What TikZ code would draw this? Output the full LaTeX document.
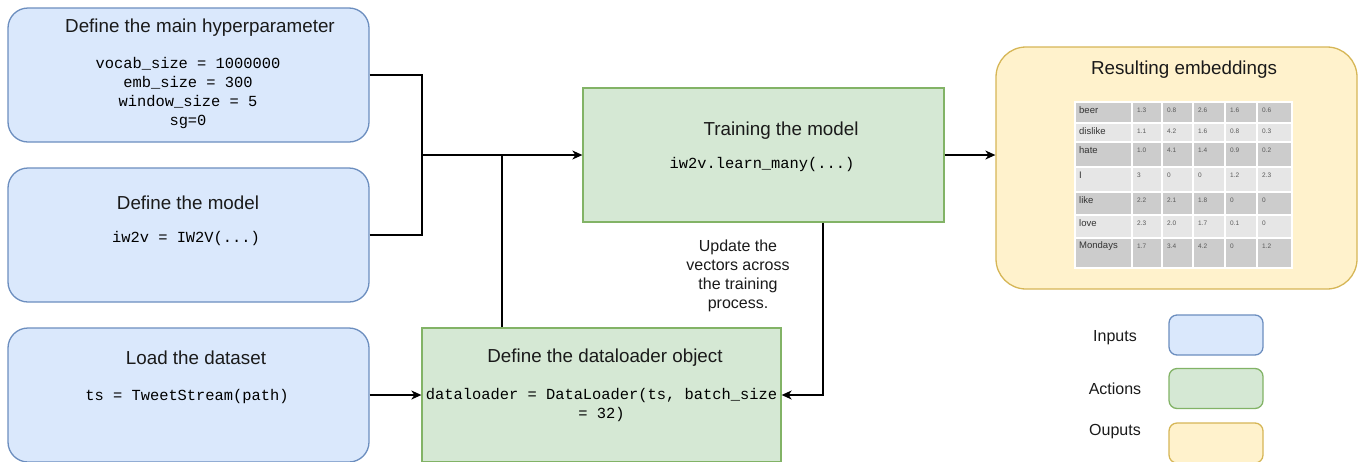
\documentclass[tikz,border=0pt]{standalone}
\usepackage{fontspec}
\setmainfont{Liberation Sans}
\setmonofont{Liberation Mono}
\usetikzlibrary{arrows.meta}

\definecolor{infill}{HTML}{DAE8FC}
\definecolor{inedge}{HTML}{6C8EBF}
\definecolor{actfill}{HTML}{D5E8D4}
\definecolor{actedge}{HTML}{82B366}
\definecolor{outfill}{HTML}{FFF2CC}
\definecolor{outedge}{HTML}{D6B656}
\definecolor{tabdark}{HTML}{CCCCCC}
\definecolor{tablight}{HTML}{E6E6E6}
\definecolor{txt}{HTML}{1A1A1A}

\tikzset{
  inbox/.style={draw=inedge, fill=infill, line width=1.3, rounded corners=20, minimum width=361, minimum height=134},
  actbox/.style={draw=actedge, fill=actfill, line width=1.3, minimum width=361, minimum height=134},
  outbox/.style={draw=outedge, fill=outfill, line width=1.3, rounded corners=30, minimum width=361, minimum height=242},
  keybox/.style={line width=1.3, rounded corners=8, minimum width=94, minimum height=40},
  headtxt/.style={text=txt, inner sep=0, font=\fontsize{18.8}{23}\selectfont},
  codetxt/.style={text=black, align=center, inner sep=0, font=\ttfamily\fontsize{15.4}{19}\selectfont},
  smalltxt/.style={text=txt, align=center, inner sep=0, font=\fontsize{16}{19}\selectfont},
  flow/.style={line width=1.3, -{Stealth[length=10, width=9, inset=3]}},
  link/.style={line width=1.3},
}

\begin{document}
\begin{tikzpicture}[x=1pt, y=-1pt]
  \useasboundingbox (0,0) rectangle (1364,461);
  \clip (0,0) rectangle (1364,461);  % untere Kaesten sind abgeschnitten

  % Eingaben
  \node[inbox] (hyper) at (188.5,75) {};
  \node[headtxt] (hyper-title) at (200,28) {Define the main hyperparameter};
  \node[codetxt] (hyper-code) at (188,93.5) {vocab\_size = 1000000\\emb\_size = 300\\window\_size = 5\\sg=0};

  \node[inbox] (model) at (188.5,235) {};
  \node[headtxt] (model-title) at (188,203) {Define the model};
  \node[codetxt] (model-code) at (186,239) {iw2v = IW2V(...)};

  \node[inbox] (data) at (188.5,395) {};
  \node[headtxt] (data-title) at (196,358) {Load the dataset};
  \node[codetxt] (data-code) at (187,397) {ts = TweetStream(path)};

  % Aktionen
  \node[actbox] (train) at (763.5,155) {};
  \node[headtxt] (train-title) at (781,131) {Training the model};
  \node[codetxt] (train-code) at (762,165) {iw2v.learn\_many(...)};

  \node[actbox, minimum width=359] (loader) at (601.5,395) {};
  \node[headtxt] (loader-title) at (605,358) {Define the dataloader object};
  \node[codetxt] (loader-code) at (601.5,405) {dataloader = DataLoader(ts, batch\_size\\= 32)};

  % Ausgabe
  \node[outbox] (embed) at (1176.5,168) {};
  \node[headtxt] (embed-title) at (1184,70) {Resulting embeddings};

  \foreach \i/\word/\va/\vb/\vc/\vd/\ve/\top/\bot/\shade in {
      1/beer/1.3/0.8/2.6/1.6/0.6/102/123/tabdark,
      2/dislike/1.1/4.2/1.6/0.8/0.3/123/142/tablight,
      3/hate/1.0/4.1/1.4/0.9/0.2/142/167/tabdark,
      4/I/3/0/0/1.2/2.3/167/192/tablight,
      5/like/2.2/2.1/1.8/0/0/192/215/tabdark,
      6/love/2.3/2.0/1.7/0.1/0/215/238/tablight,
      7/Mondays/1.7/3.4/4.2/0/1.2/238/268/tabdark}
    {
     \draw[fill=\shade, draw=white, line width=1.2] (1075,\top) rectangle (1132,\bot);  % Wortspalte
     \node[anchor=west, inner sep=0, text=black!80, font=\fontsize{9.5}{11}\selectfont] (word-\i) at (1079,\top+8.5) {\word};
     \foreach \xa/\xb/\v/\j in {1132/1162/\va/1, 1162/1193/\vb/2, 1193/1225/\vc/3, 1225/1257/\vd/4, 1257/1292/\ve/5}
       {
        \draw[fill=\shade, draw=white, line width=1.2] (\xa,\top) rectangle (\xb,\bot);  % Zahlen
        \node[anchor=west, inner sep=0, text=black!65, font=\fontsize{6.5}{8}\selectfont] (val-\i-\j) at (\xa+5,\top+8.5) {\v};
       }
    };

  % Verbindungen
  \coordinate (merge) at (422,155);
  \coordinate (tap) at (502,155);
  \draw[link] (hyper.east) -| (merge);
  \draw[link] (model.east) -| (merge);
  \draw[flow] (merge) -- (merge -| train.west);
  \draw[link] (tap |- loader.north) -- (tap);
  \draw[flow] (train.east) -- (train.east -| embed.west);
  \draw[flow] ([xshift=59.5pt]train.south) |- (loader.east);
  \draw[flow] (data.east) -- (loader.west);
  \node[smalltxt] (update) at (738,276) {Update the\\vectors across\\the training\\process.};

  % Legende
  \node[keybox, draw=inedge, fill=infill] (key-in) at (1216,335) {};
  \node[keybox, draw=actedge, fill=actfill] (key-act) at (1216,388.5) {};
  \node[keybox, draw=outedge, fill=outfill] (key-out) at (1216,443) {};
  \node[smalltxt] (key-in-text) at (1115,338) {Inputs};
  \node[smalltxt] (key-act-text) at (1115,389) {Actions};
  \node[smalltxt] (key-out-text) at (1115,432) {Ouputs};
\end{tikzpicture}
\end{document}
